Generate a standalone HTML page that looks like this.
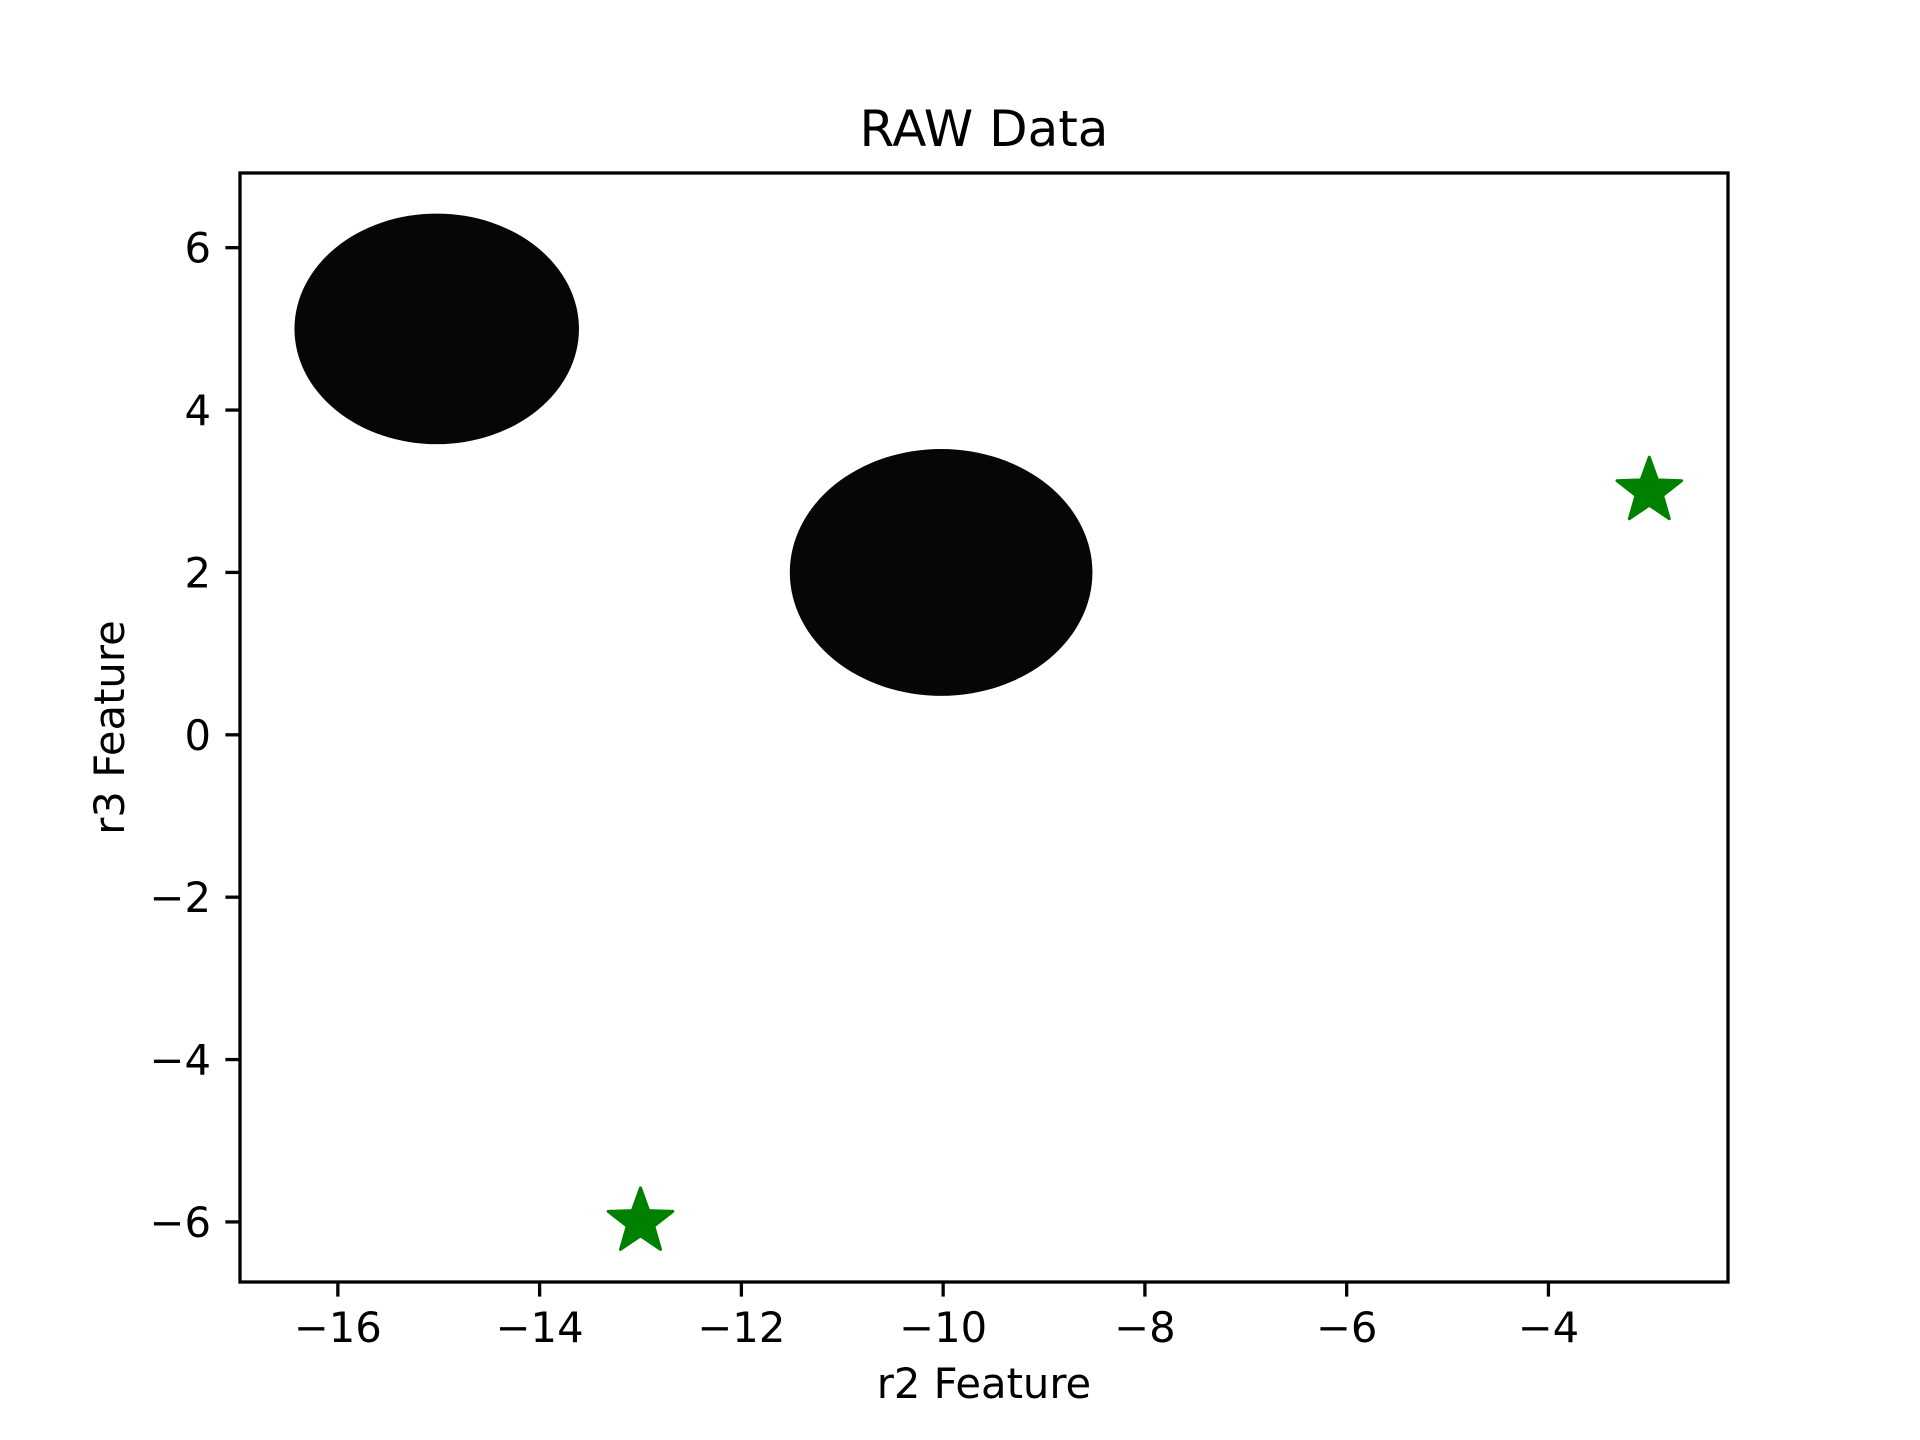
<!DOCTYPE html>
<html><head><meta charset="utf-8"><style>body{margin:0;background:#fff}svg{display:block}text{font-family:"DejaVu Sans","Liberation Sans",sans-serif;fill:#000}</style></head>
<body>
<svg id="chart" width="1920" height="1440" xmlns="http://www.w3.org/2000/svg">
<rect width="1920" height="1440" fill="#fff"/>
<g id="marks"></g>
<g id="axes"></g>
</svg>
<script>
const clusterCx = [-15.02, -10.02];
const clusterCy = [5.0, 2.0];
const clusterRx = [1.41, 1.5];
const clusterRy = [1.42, 1.52];
const starX = [-3, -13];
const starY = [3, -6];
const xTicks = [-16, -14, -12, -10, -8, -6, -4];
const yTicks = [-6, -4, -2, 0, 2, 4, 6];
const xlim = [-16.97, -2.22], ylim = [-6.74, 6.92];
const L = 240, R = 1728, T = 173, B = 1282;
const sx = v => L + (v - xlim[0]) / (xlim[1] - xlim[0]) * (R - L);
const sy = v => B - (v - ylim[0]) / (ylim[1] - ylim[0]) * (B - T);
const NS = 'http://www.w3.org/2000/svg';
function mk(tag, attrs, parent) { const e = document.createElementNS(NS, tag); for (const k in attrs) e.setAttribute(k, attrs[k]); parent.appendChild(e); return e; }
const marks = document.getElementById('marks'), axes = document.getElementById('axes');
const ppx = (R - L) / (xlim[1] - xlim[0]), ppy = (B - T) / (ylim[1] - ylim[0]);
clusterCx.forEach((c, i) => {
  const e = mk('ellipse', {cx: sx(c), cy: sy(clusterCy[i]), rx: clusterRx[i] * ppx, ry: clusterRy[i] * ppy, fill: '#060606'}, marks);
  
  
});
starX.forEach((v, i) => {
  const cx = sx(v), cy = sy(starY[i]), ro = 34, ri = 14;
  let pts = [];
  for (let k = 0; k < 10; k++) { const a = -Math.PI / 2 + k * Math.PI / 5, r = k % 2 ? ri : ro; pts.push((cx + r * Math.cos(a)).toFixed(1) + ',' + (cy + r * Math.sin(a)).toFixed(1)); }
  const p = mk('polygon', {points: pts.join(' '), fill: '#008000', stroke: '#008000', 'stroke-width': 3, 'stroke-linejoin': 'round'}, marks);
  
  
});
const frame = mk('rect', {x: L, y: T, width: R - L, height: B - T, fill: 'none', stroke: '#000', 'stroke-width': 3.3}, axes);


xTicks.forEach(v => {
  const x = sx(v);
  mk('line', {x1: x, x2: x, y1: B, y2: B + 14.6, stroke: '#000', 'stroke-width': 3.3}, axes);
  const t = mk('text', {x: x, y: B + 60, 'font-size': 41.7, 'text-anchor': 'middle'}, axes);
  t.textContent = '\u2212' + Math.abs(v);
  
  
});
yTicks.forEach(v => {
  const y = sy(v);
  mk('line', {x1: L - 14.6, x2: L, y1: y, y2: y, stroke: '#000', 'stroke-width': 3.3}, axes);
  const t = mk('text', {x: L - 29, y: y + 15, 'font-size': 41.7, 'text-anchor': 'end'}, axes);
  t.textContent = v < 0 ? '\u2212' + Math.abs(v) : String(v);
  
  
});
const title = mk('text', {x: (L + R) / 2, y: 146, 'font-size': 50, 'text-anchor': 'middle'}, axes);
title.textContent = 'RAW Data';


const xl = mk('text', {x: (L + R) / 2, y: 1398, 'font-size': 41.7, 'text-anchor': 'middle'}, axes);
xl.textContent = 'r2 Feature';


const yl = mk('text', {x: 0, y: 0, 'font-size': 41.7, 'text-anchor': 'middle', transform: 'translate(124,' + ((T + B) / 2) + ') rotate(-90)'}, axes);
yl.textContent = 'r3 Feature';


</script>
</body></html>
